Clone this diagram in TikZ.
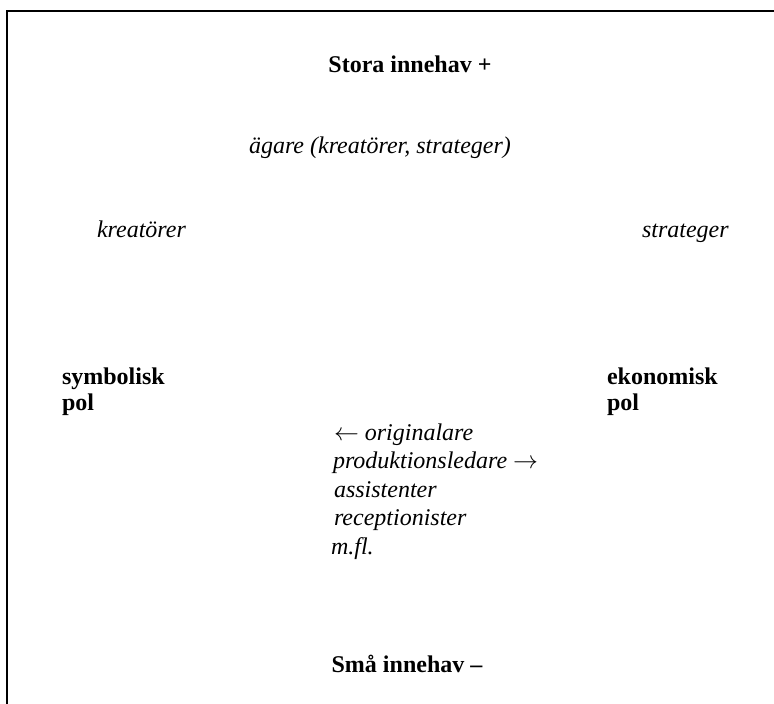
\documentclass[tikz,border=0pt]{standalone}
\usepackage{fontspec}
\setmainfont{Liberation Serif}
\begin{document}
\begin{tikzpicture}[x=1pt,y=-1pt,
  lbl/.style={inner sep=0pt, outer sep=0pt, font=\fontsize{24}{28}\selectfont},
  bl/.style={lbl, font=\fontsize{24}{28}\selectfont\bfseries},
  it/.style={lbl, font=\fontsize{24}{28}\selectfont\itshape},
  frame/.style={draw=black, line width=1.6pt}]
\useasboundingbox (0,0) rectangle (774,704);
\coordinate (fb) at (7,704);
\coordinate (fc) at (7,11);
\coordinate (fr) at (774,11);
\draw[frame] (fb) -- (fc) -- (fr);

\node[bl, anchor=base] (top) at (410,72) {Stora innehav +};
\node[it, anchor=base] (own) at (380,153) {ägare (kreatörer, strateger)};
\node[it, anchor=base west] (kre) at (97,237) {kreatörer};
\node[it, anchor=base west] (str) at (642,237) {strateger};
\node[bl, anchor=base west] (sym1) at (62,384) {symbolisk};
\node[bl, anchor=base west] (sym2) at (62,410) {pol};
\node[bl, anchor=base west] (eko1) at (607,384) {ekonomisk};
\node[bl, anchor=base west] (eko2) at (607,410) {pol};
\node[it, anchor=base west] (m1) at (334,440) {$\leftarrow$ originalare};
\node[it, anchor=base west] (m2) at (333,468) {produktionsledare $\rightarrow$};
\node[it, anchor=base west] (m3) at (334,497) {assistenter};
\node[it, anchor=base west] (m4) at (334,525) {receptionister};
\node[it, anchor=base west] (m5) at (331,554) {m.fl.};
\node[bl, anchor=base] (bot) at (407,672) {Små innehav –};
\end{tikzpicture}
\end{document}
